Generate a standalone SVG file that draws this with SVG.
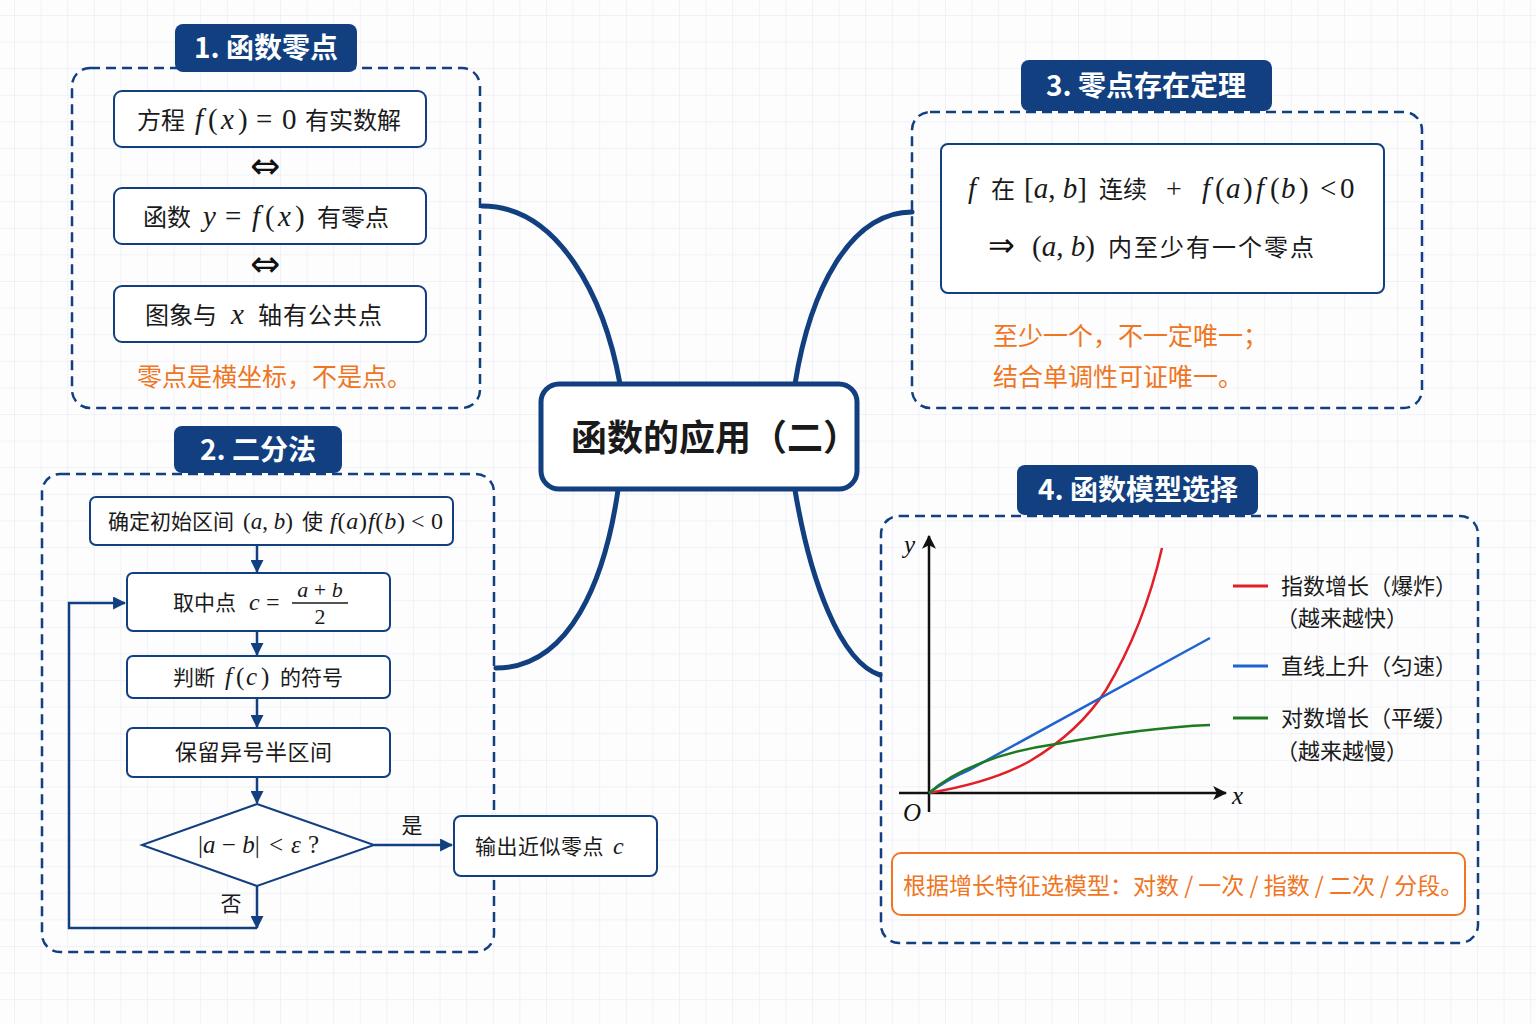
<svg xmlns="http://www.w3.org/2000/svg" width="1536" height="1024" viewBox="0 0 1536 1024">
<defs>
<pattern id="grid" width="26.6" height="26.6" patternUnits="userSpaceOnUse" x="14" y="15">
<path d="M26.6 0 L0 0 0 26.6" fill="none" stroke="#e6e8ef" stroke-width="1"/>
</pattern>
<marker id="arr" viewBox="0 0 12 12" refX="11" refY="6" markerWidth="13" markerHeight="13" markerUnits="userSpaceOnUse" orient="auto">
<path d="M0 0 L12 6 L0 12 Z" fill="#123f80"/>
</marker>
<marker id="ax" viewBox="0 0 12 12" refX="11" refY="6" markerWidth="14" markerHeight="14" markerUnits="userSpaceOnUse" orient="auto">
<path d="M0 0 L12 6 L0 12 L3 6 Z" fill="#111"/>
</marker>
<style>
.cjk{font-family:"Noto Sans CJK SC","Noto Sans",sans-serif;fill:#1a1a1a}
.m{font-family:"Liberation Serif","DejaVu Serif",serif}
.i{font-style:italic}
.tab{fill:#123f80}
.tabt{font-family:"Noto Sans CJK SC","Noto Sans",sans-serif;font-weight:bold;fill:#fff;font-size:28px}
.frame{fill:none;stroke:#123f80;stroke-width:2.5;stroke-dasharray:10 6}
.box{fill:#fff;stroke:#123f80;stroke-width:2}
.flow{fill:none;stroke:#123f80;stroke-width:2.5}
.conn{fill:none;stroke:#123f80;stroke-width:5;stroke-linecap:round}
.orange{font-family:"Noto Sans CJK SC","Noto Sans",sans-serif;fill:#f07522}
.arrw{font-family:"DejaVu Sans",sans-serif;fill:#111}
</style>
</defs>
<rect width="1536" height="1024" fill="#fdfdfe"/>
<rect width="1536" height="1024" fill="url(#grid)"/>

<g id="connectors">
<path class="conn" d="M482,206 C560,206 605,300 620,384"/>
<path class="conn" d="M912,212 C850,212 810,290 795,384"/>
<path class="conn" d="M618,490 C605,580 570,668 496,668"/>
<path class="conn" d="M795,490 C810,580 840,662 880,675"/>
</g>

<g id="center">
<rect x="541" y="384" width="316" height="105" rx="18" fill="#fff" stroke="#123f80" stroke-width="5"/>
<text x="571" y="451" class="cjk" font-size="36" font-weight="bold" fill="#111">函数的应用（二）</text>
</g>

<g id="sec1">
<rect class="frame" x="72" y="68" width="408" height="340" rx="18"/>
<rect class="tab" x="175" y="24" width="182" height="48" rx="8"/>
<text class="tabt" x="266" y="58" text-anchor="middle">1. 函数零点</text>
<g id="s1b1">
<rect class="box" x="114" y="91" width="312" height="56" rx="8"/>
<text y="129" class="cjk" font-size="24"><tspan x="137">方程</tspan><tspan class="m i" x="195" font-size="29">f</tspan><tspan class="m" x="208" font-size="29">(</tspan><tspan class="m i" x="221" font-size="29">x</tspan><tspan class="m" x="238" font-size="29">)</tspan><tspan class="m" x="256" font-size="29">=</tspan><tspan class="m" x="282" font-size="29">0</tspan><tspan x="305">有实数解</tspan></text>
</g>
<text x="265" y="178" text-anchor="middle" class="arrw" font-size="36">⇔</text>
<g id="s1b2">
<rect class="box" x="114" y="188" width="312" height="56" rx="8"/>
<text y="226" class="cjk" font-size="24"><tspan x="143">函数</tspan><tspan class="m i" x="203" font-size="29">y</tspan><tspan class="m" x="225" font-size="29">=</tspan><tspan class="m i" x="252" font-size="29">f</tspan><tspan class="m" x="265" font-size="29">(</tspan><tspan class="m i" x="278" font-size="29">x</tspan><tspan class="m" x="295" font-size="29">)</tspan><tspan x="317">有零点</tspan></text>
</g>
<text x="265" y="276" text-anchor="middle" class="arrw" font-size="36">⇔</text>
<g id="s1b3">
<rect class="box" x="114" y="286" width="312" height="56" rx="8"/>
<text y="324" class="cjk" font-size="24"><tspan x="145">图象与</tspan><tspan class="m i" x="231" font-size="29">x</tspan><tspan x="258" letter-spacing="1">轴有公共点</tspan></text>
</g>
<text x="137" y="386" class="orange" font-size="25">零点是横坐标，不是点。</text>
</g>

<g id="sec2">
<rect class="frame" x="42" y="474" width="452" height="478" rx="18"/>
<rect class="tab" x="174" y="426" width="168" height="47" rx="8"/>
<text class="tabt" x="258" y="460" text-anchor="middle">2. 二分法</text>
<g id="f1">
<rect class="box" x="90" y="497" width="363" height="48" rx="6"/>
<text y="529" class="cjk" font-size="21"><tspan x="108">确定初始区间</tspan><tspan class="m" x="243" font-size="23">(<tspan class="i">a</tspan>, <tspan class="i">b</tspan>)</tspan><tspan x="302">使</tspan><tspan class="m" x="330" font-size="24" letter-spacing="0.8"><tspan class="i">f</tspan>(<tspan class="i">a</tspan>)<tspan class="i">f</tspan>(<tspan class="i">b</tspan>)</tspan><tspan class="m" x="411" font-size="24">&lt;</tspan><tspan class="m" x="431" font-size="24">0</tspan></text>
</g>
<g id="f2">
<rect class="box" x="127" y="573" width="263" height="58" rx="6"/>
<text y="610" class="cjk" font-size="21"><tspan x="173">取中点</tspan><tspan class="m i" x="249" font-size="24">c</tspan><tspan class="m" x="266" font-size="24">=</tspan></text>
<text x="320" y="597" text-anchor="middle" class="m" font-size="22" fill="#1a1a1a"><tspan class="i">a</tspan> + <tspan class="i">b</tspan></text>
<line x1="292" y1="603" x2="348" y2="603" stroke="#1a1a1a" stroke-width="1.3"/>
<text x="320" y="624" text-anchor="middle" class="m" font-size="22" fill="#1a1a1a">2</text>
</g>
<g id="f3">
<rect class="box" x="127" y="656" width="263" height="42" rx="6"/>
<text y="685" class="cjk" font-size="21"><tspan x="173">判断</tspan><tspan class="m i" x="225" font-size="25">f</tspan><tspan class="m" x="236" font-size="25">(</tspan><tspan class="m i" x="246" font-size="25">c</tspan><tspan class="m" x="261" font-size="25">)</tspan><tspan x="280">的符号</tspan></text>
</g>
<g id="f4">
<rect class="box" x="127" y="728" width="263" height="49" rx="6"/>
<text x="175" y="760" class="cjk" font-size="22" letter-spacing="0.5">保留异号半区间</text>
</g>
<g id="f5">
<polygon class="box" points="257,804 374,845 257,886 142,845"/>
<text y="853" class="m" font-size="25" fill="#1a1a1a"><tspan x="198">|<tspan class="i">a</tspan> − <tspan class="i">b</tspan>|</tspan><tspan x="269">&lt;</tspan><tspan class="i" x="291">ε</tspan><tspan x="308">?</tspan></text>
</g>
<g id="f6">
<rect class="box" x="454" y="816" width="203" height="60" rx="7"/>
<text y="854" class="cjk" font-size="21"><tspan x="475" letter-spacing="0.5">输出近似零点</tspan><tspan class="m i" x="613" font-size="24">c</tspan></text>
</g>
<g id="flow-connectors">
<line class="flow" x1="257" y1="545" x2="257" y2="572" marker-end="url(#arr)"/>
<line class="flow" x1="257" y1="631" x2="257" y2="655" marker-end="url(#arr)"/>
<line class="flow" x1="257" y1="698" x2="257" y2="727" marker-end="url(#arr)"/>
<line class="flow" x1="257" y1="777" x2="257" y2="803" marker-end="url(#arr)"/>
<line class="flow" x1="374" y1="845" x2="452" y2="845" marker-end="url(#arr)"/>
<line class="flow" x1="257" y1="886" x2="257" y2="928" marker-end="url(#arr)"/>
<path class="flow" d="M257,928 L69,928 L69,603 L125,603" marker-end="url(#arr)"/>
<text x="412" y="833" text-anchor="middle" class="cjk" font-size="21">是</text>
<text x="231" y="911" text-anchor="middle" class="cjk" font-size="21">否</text>
</g>
</g>

<g id="sec3">
<rect class="frame" x="912" y="112" width="510" height="296" rx="18"/>
<rect class="tab" x="1021" y="60" width="251" height="51" rx="8"/>
<text class="tabt" x="1146" y="96" text-anchor="middle">3. 零点存在定理</text>
<g id="s3b">
<rect class="box" x="941" y="144" width="443" height="149" rx="7"/>
<text y="198" class="cjk" font-size="24"><tspan class="m i" x="968" font-size="29">f</tspan><tspan x="991">在</tspan><tspan class="m" x="1024" font-size="29">[<tspan class="i">a</tspan>, <tspan class="i">b</tspan>]</tspan><tspan x="1099">连续</tspan><tspan class="m" x="1166" font-size="28">+</tspan><tspan class="m i" x="1202" font-size="29">f</tspan><tspan class="m" x="1215" font-size="29">(</tspan><tspan class="m i" x="1226" font-size="29">a</tspan><tspan class="m" x="1243" font-size="29">)</tspan><tspan class="m i" x="1256" font-size="29">f</tspan><tspan class="m" x="1270" font-size="29">(</tspan><tspan class="m i" x="1281" font-size="29">b</tspan><tspan class="m" x="1299" font-size="29">)</tspan><tspan class="m" x="1320" font-size="29">&lt;</tspan><tspan class="m" x="1340" font-size="29">0</tspan></text>
<text y="256" class="cjk" font-size="24"><tspan class="arrw" x="988" font-size="32">⇒</tspan><tspan class="m" x="1032" font-size="29">(<tspan class="i">a</tspan>, <tspan class="i">b</tspan>)</tspan><tspan x="1108" letter-spacing="2">内至少有一个零点</tspan></text>
</g>
<text x="993" y="345" class="orange" font-size="25">至少一个，不一定唯一；</text>
<text x="993" y="386" class="orange" font-size="25">结合单调性可证唯一。</text>
</g>

<g id="sec4">
<rect class="frame" x="881" y="516" width="597" height="427" rx="18"/>
<rect class="tab" x="1017" y="465" width="241" height="50" rx="8"/>
<text class="tabt" x="1138" y="500" text-anchor="middle">4. 函数模型选择</text>
<g id="graph">
<line x1="929" y1="812" x2="929" y2="536" stroke="#111" stroke-width="2.5" marker-end="url(#ax)"/>
<line x1="899" y1="793" x2="1226" y2="793" stroke="#111" stroke-width="2.5" marker-end="url(#ax)"/>
<text x="904" y="553" class="m i" font-size="25" fill="#111">y</text>
<text x="1232" y="804" class="m i" font-size="25" fill="#111">x</text>
<text x="903" y="821" class="m i" font-size="25" fill="#111">O</text>
<path d="M929,793 C965,787 1000,778 1030,761 C1062,742 1088,718 1106,690 C1130,650 1150,600 1162,548" fill="none" stroke="#e01f26" stroke-width="2.5"/>
<path d="M929,793 C945,781 955,776 969,770 L1210,638" fill="none" stroke="#1e63d0" stroke-width="2.5"/>
<path d="M929,793 C955,770 1000,752 1056,744 C1110,734 1160,727 1210,725" fill="none" stroke="#1e7a1e" stroke-width="2.5"/>
</g>
<g id="legend">
<line x1="1233" y1="586" x2="1268" y2="586" stroke="#e01f26" stroke-width="3"/>
<text x="1281" y="594" class="cjk" font-size="22">指数增长（爆炸）</text>
<text x="1276" y="626" class="cjk" font-size="22">（越来越快）</text>
<line x1="1233" y1="666" x2="1268" y2="666" stroke="#1e63d0" stroke-width="3"/>
<text x="1281" y="674" class="cjk" font-size="22">直线上升（匀速）</text>
<line x1="1233" y1="718" x2="1268" y2="718" stroke="#1e7a1e" stroke-width="3"/>
<text x="1281" y="726" class="cjk" font-size="22">对数增长（平缓）</text>
<text x="1276" y="759" class="cjk" font-size="22">（越来越慢）</text>
</g>
<g id="s4note">
<rect x="892" y="853" width="573" height="62" rx="9" fill="#fff" stroke="#f07522" stroke-width="2"/>
<text x="903" y="894" class="orange" font-size="23">根据增长特征选模型：对数 / 一次 / 指数 / 二次 / 分段。</text>
</g>
</g>
</svg>
